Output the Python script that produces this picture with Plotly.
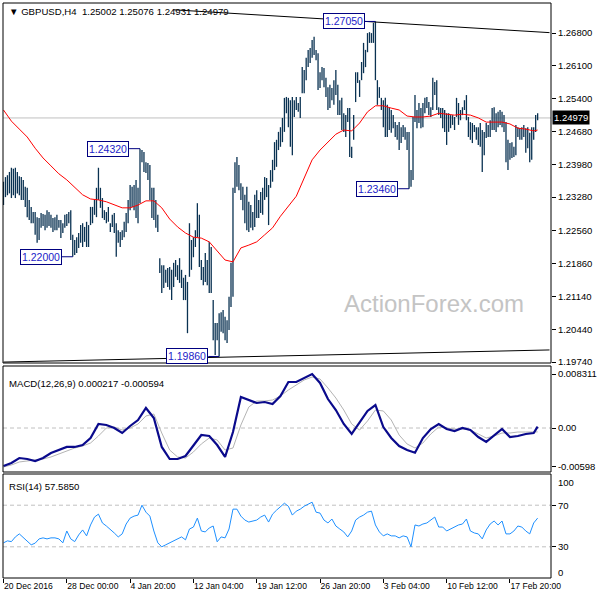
import plotly.graph_objects as go

# ---------------- data ----------------
SYMBOL = "GBPUSD,H4"
LAST_OHLC = [1.25002, 1.25076, 1.24931, 1.24979]

# bar highs / lows, in units of 0.0001 (one H4 bar each, 271 bars)
BAR_HIGH = [12361, 12371, 12375, 12382, 12391, 12389, 12391, 12382, 12373, 12371,
            12365, 12350, 12348, 12322, 12307, 12296, 12296, 12285, 12283, 12294,
            12292, 12290, 12300, 12296, 12290, 12283, 12285, 12290, 12279, 12279,
            12272, 12290, 12292, 12296, 12300, 12247, 12236, 12242, 12251, 12268,
            12272, 12264, 12275, 12268, 12307, 12307, 12322, 12348, 12391, 12348,
            12326, 12300, 12296, 12307, 12272, 12290, 12294, 12272, 12257, 12253,
            12257, 12275, 12294, 12322, 12354, 12350, 12354, 12365, 12348, 12432,
            12429, 12425, 12403, 12401, 12397, 12348, 12348, 12322, 12290, 12197,
            12182, 12182, 12172, 12176, 12178, 12172, 12187, 12193, 12182, 12197,
            12172, 12155, 12161, 12146, 12272, 12236, 12242, 12257, 12315, 12290,
            12193, 12178, 12208, 12193, 12232, 12221, 12107, 12058, 12058, 12079,
            12081, 12086, 12071, 12064, 12114, 12187, 12348, 12403, 12414, 12397,
            12358, 12350, 12333, 12350, 12318, 12311, 12296, 12333, 12343, 12322,
            12339, 12348, 12371, 12369, 12354, 12386, 12408, 12446, 12451, 12468,
            12478, 12498, 12541, 12543, 12541, 12536, 12543, 12536, 12543, 12530,
            12543, 12607, 12601, 12627, 12644, 12648, 12665, 12672, 12644, 12637,
            12596, 12607, 12605, 12584, 12564, 12569, 12562, 12579, 12601, 12569,
            12536, 12541, 12508, 12504, 12519, 12519, 12436, 12504, 12596, 12596,
            12579, 12618, 12659, 12644, 12680, 12682, 12680, 12702, 12705, 12579,
            12564, 12541, 12536, 12541, 12526, 12519, 12515, 12504, 12489, 12483,
            12489, 12478, 12483, 12478, 12468, 12468, 12386, 12500, 12547, 12515,
            12530, 12519, 12530, 12541, 12543, 12532, 12521, 12584, 12575, 12579,
            12521, 12519, 12519, 12515, 12508, 12508, 12504, 12504, 12500, 12541,
            12530, 12515, 12521, 12536, 12547, 12500, 12489, 12487, 12483, 12478,
            12478, 12487, 12472, 12468, 12487, 12483, 12493, 12519, 12521, 12508,
            12511, 12515, 12511, 12504, 12489, 12451, 12444, 12446, 12436, 12483,
            12478, 12476, 12478, 12483, 12476, 12478, 12466, 12478, 12478, 12504,
            12508]
BAR_LOW = [12311, 12328, 12332, 12336, 12326, 12332, 12326, 12336, 12332, 12322,
           12322, 12307, 12285, 12279, 12272, 12272, 12247, 12230, 12236, 12262,
           12266, 12257, 12262, 12266, 12262, 12253, 12257, 12257, 12262, 12240,
           12251, 12262, 12266, 12272, 12236, 12200, 12204, 12208, 12219, 12230,
           12221, 12232, 12221, 12221, 12268, 12272, 12290, 12285, 12322, 12305,
           12283, 12279, 12272, 12275, 12253, 12264, 12251, 12200, 12230, 12221,
           12236, 12242, 12253, 12272, 12300, 12307, 12300, 12283, 12272, 12315,
           12403, 12382, 12380, 12365, 12322, 12283, 12279, 12262, 12253, 12165,
           12122, 12133, 12144, 12135, 12129, 12107, 12135, 12157, 12150, 12144,
           12133, 12107, 12107, 12036, 12157, 12172, 12199, 12221, 12242, 12178,
           12150, 12139, 12146, 12139, 12122, 12122, 12021, 11989, 12021, 11986,
           12039, 12036, 12021, 12015, 12043, 12092, 12114, 12337, 12350, 12343,
           12322, 12300, 12272, 12257, 12253, 12262, 12257, 12264, 12283, 12283,
           12294, 12290, 12322, 12328, 12268, 12348, 12361, 12386, 12393, 12429,
           12436, 12446, 12468, 12508, 12478, 12436, 12418, 12500, 12515, 12511,
           12498, 12551, 12551, 12579, 12607, 12616, 12627, 12633, 12622, 12558,
           12562, 12579, 12564, 12543, 12515, 12519, 12536, 12526, 12547, 12504,
           12504, 12472, 12468, 12457, 12489, 12414, 12412, 12451, 12532, 12573,
           12543, 12579, 12594, 12607, 12639, 12659, 12659, 12659, 12579, 12526,
           12541, 12515, 12478, 12457, 12457, 12472, 12466, 12476, 12457, 12451,
           12429, 12444, 12457, 12451, 12429, 12346, 12350, 12365, 12489, 12476,
           12487, 12476, 12478, 12508, 12519, 12504, 12500, 12515, 12547, 12515,
           12504, 12498, 12476, 12468, 12440, 12468, 12476, 12483, 12472, 12500,
           12483, 12493, 12504, 12515, 12493, 12457, 12451, 12444, 12468, 12451,
           12440, 12436, 12382, 12418, 12455, 12457, 12457, 12472, 12472, 12468,
           12478, 12483, 12478, 12468, 12403, 12386, 12408, 12412, 12414, 12418,
           12457, 12451, 12451, 12457, 12423, 12433, 12403, 12408, 12451, 12468,
           12493]

# moving average (red), MACD and signal, sampled every 4 bars + last bar
IND_BARS = list(range(0, 269, 4)) + [270]
MA_VALUES = [12515, 12491, 12474, 12457, 12433, 12412, 12395, 12378, 12365, 12350,
             12333, 12324, 12322, 12318, 12311, 12305, 12305, 12311, 12320, 12320,
             12305, 12281, 12264, 12251, 12242, 12240, 12232, 12212, 12193, 12189,
             12219, 12225, 12232, 12247, 12262, 12287, 12309, 12330, 12369, 12408,
             12429, 12446, 12463, 12472, 12470, 12487, 12511, 12524, 12524, 12519,
             12515, 12502, 12500, 12500, 12502, 12508, 12506, 12504, 12506, 12504,
             12498, 12489, 12489, 12489, 12485, 12476, 12474, 12470, 12472]
MACD_MAIN = [-0.00585, -0.00539, -0.00462, -0.00477, -0.00508, -0.00462, -0.00385, -0.00339,
             -0.00292, -0.00292, -0.00262, -0.00154, 0.00062, 0.00046, 0.0, -0.00077,
             0.00031, 0.00123, 0.00308, 0.00154, -0.00292, -0.00477, -0.00477, -0.00431,
             -0.00262, -0.00108, -0.00123, -0.00262, -0.00446, -0.00062, 0.00477, 0.00431,
             0.00385, 0.00400, 0.00369, 0.00493, 0.00708, 0.00708, 0.00770, 0.00831,
             0.00693, 0.00446, 0.00277, 0.00062, -0.00092, 0.00077, 0.00262, 0.00354,
             0.00015, -0.00154, -0.00277, -0.00340, -0.00380, -0.00154, -0.00015, 0.00062,
             -0.00015, -0.00046, 0.0, -0.00031, -0.00139, -0.00215, -0.00108, -0.00015,
             -0.00139, -0.00123, -0.00092, -0.00077, 0.000217]
MACD_SIGNAL = [-0.00600, -0.00569, -0.00523, -0.00508, -0.00493, -0.00477, -0.00446, -0.00400,
               -0.00354, -0.00308, -0.00277, -0.00231, -0.00123, 0.0, 0.00015, -0.00031,
               0.0, 0.00062, 0.00185, 0.00215, -0.00077, -0.00339, -0.00446, -0.00462,
               -0.00369, -0.00246, -0.00154, -0.00185, -0.00339, -0.00308, 0.00046, 0.00323,
               0.00416, 0.00416, 0.00431, 0.00493, 0.00585, 0.00662, 0.00739, 0.00785,
               0.00754, 0.00616, 0.00462, 0.00277, 0.00062, -0.00031, 0.00108, 0.00277,
               0.00262, 0.00123, -0.00108, -0.00246, -0.00308, -0.00231, -0.00092, 0.00015,
               0.0, -0.00015, -0.00015, -0.00031, -0.00092, -0.00154, -0.00123, -0.00077,
               -0.00077, -0.00062, -0.00062, -0.00062, -0.000594]

# RSI(14), sampled every 2 bars
RSI_BARS = list(range(0, 271, 2))
RSI_VALUES = [33.8, 35.7, 35.0, 39.5, 42.4, 38.6, 34.8, 31.9, 33.5, 37.6,
              38.6, 37.6, 38.6, 38.6, 37.6, 33.8, 45.2, 37.6, 35.0, 41.4,
              46.2, 40.5, 51.0, 58.6, 61.4, 52.9, 50.0, 47.1, 43.3, 39.5,
              42.4, 51.9, 57.6, 59.5, 60.5, 70.0, 63.3, 59.5, 45.2, 33.8,
              30.0, 31.9, 33.8, 35.7, 37.6, 39.5, 36.7, 47.1, 49.0, 57.6,
              45.2, 44.3, 48.1, 50.0, 34.8, 39.5, 38.6, 47.1, 66.2, 66.2,
              59.5, 55.7, 53.8, 54.8, 55.7, 58.6, 60.5, 53.8, 61.4, 65.2,
              68.1, 71.9, 69.0, 60.5, 64.3, 66.2, 69.0, 71.0, 72.9, 63.3,
              62.4, 55.7, 52.9, 56.7, 50.0, 47.1, 44.3, 39.5, 45.2, 55.7,
              58.6, 60.5, 63.3, 64.3, 51.0, 44.3, 40.5, 42.4, 40.5, 40.5,
              38.6, 40.5, 39.5, 30.0, 51.0, 50.0, 51.9, 52.9, 55.7, 58.6,
              49.0, 49.0, 45.2, 47.1, 49.0, 51.0, 51.9, 56.7, 45.2, 43.3,
              42.4, 37.6, 46.2, 51.9, 54.8, 51.0, 54.8, 42.4, 42.4, 45.2,
              50.0, 49.0, 45.2, 42.4, 52.9, 57.585]

X_TICK_BARS = [0, 32, 64, 96, 128, 160, 192, 224, 256]
X_TICK_LABELS = ["20 Dec 2016", "28 Dec 00:00", "4 Jan 20:00", "12 Jan 04:00",
                 "19 Jan 12:00", "26 Jan 20:00", "3 Feb 04:00", "10 Feb 12:00",
                 "17 Feb 20:00"]
PRICE_TICKS = [1.26800, 1.26100, 1.25400, 1.24680, 1.23980, 1.23280,
               1.22560, 1.21860, 1.21140, 1.20440, 1.19740]

SWING_BARS = [69, 35, 109, 188, 205]
SWING_PRICES = [1.24320, 1.22000, 1.19860, 1.27050, 1.23460]

TREND_TOP_BARS = [86, 276]
TREND_TOP_PRICES = [1.2730, 1.2681]
TREND_BOT_BARS = [0, 276]
TREND_BOT_PRICES = [1.1974, 1.2000]

MACD_TICKS = [0.008311, 0.0, -0.00598]
MACD_TICK_TEXT = ["0.008311", "0.00", "-0.00598"]
RSI_LEVELS = [70, 30]

# ---------------- figure ----------------
FONT = "Liberation Sans, Arial, sans-serif"
BAR_COLOR = "#0a3252"
W, H = 600, 600
ML, MR, MT, MB = 3, 43, 3, 22
PH = H - MT - MB


def dom(top_px, bot_px):
    return [1 - (bot_px - MT) / PH, 1 - (top_px - MT) / PH]


def py(px):
    return 1 - (px - MT) / PH


main_dom = dom(3, 363)
macd_dom = dom(366, 472)
rsi_dom = dom(474, 578)

fig = go.Figure()

# OHLC bars (high-low sticks)
bx, by = [], []
for i, (h, l) in enumerate(zip(BAR_HIGH, BAR_LOW)):
    bx += [i, i, None]
    by += [l / 1e4, h / 1e4, None]
fig.add_trace(go.Scatter(x=bx, y=by, mode="lines", line=dict(color=BAR_COLOR, width=1.3),
                         xaxis="x", yaxis="y", hoverinfo="skip", showlegend=False))

# moving average
fig.add_trace(go.Scatter(x=IND_BARS, y=[v / 1e4 for v in MA_VALUES], mode="lines",
                         line=dict(color="#ff0000", width=1), xaxis="x", yaxis="y",
                         showlegend=False))

# trend lines
fig.add_trace(go.Scatter(x=TREND_TOP_BARS, y=TREND_TOP_PRICES, mode="lines",
                         line=dict(color="black", width=1), xaxis="x", yaxis="y",
                         showlegend=False))
fig.add_trace(go.Scatter(x=TREND_BOT_BARS, y=TREND_BOT_PRICES, mode="lines",
                         line=dict(color="black", width=1), xaxis="x", yaxis="y",
                         showlegend=False))

# MACD
fig.add_trace(go.Scatter(x=IND_BARS, y=MACD_SIGNAL, mode="lines",
                         line=dict(color="#b4b4b4", width=1), xaxis="x", yaxis="y2",
                         showlegend=False))
fig.add_trace(go.Scatter(x=IND_BARS, y=MACD_MAIN, mode="lines",
                         line=dict(color="#0a0a8c", width=2.2), xaxis="x", yaxis="y2",
                         showlegend=False))

# RSI
fig.add_trace(go.Scatter(x=RSI_BARS, y=RSI_VALUES, mode="lines",
                         line=dict(color="#1e90ff", width=1), xaxis="x", yaxis="y3",
                         showlegend=False))

XR = [-0.25, 276.75]
shapes = []
# bid line
shapes.append(dict(type="line", xref="paper", yref="y", x0=0, x1=1,
                   y0=LAST_OHLC[3], y1=LAST_OHLC[3], line=dict(color="#c0c0c0", width=1),
                   layer="below"))
# zero line (MACD) and RSI levels
shapes.append(dict(type="line", xref="paper", yref="y2", x0=0, x1=1, y0=0, y1=0,
                   line=dict(color="#c0c0c0", width=1, dash="4px,3px"), layer="below"))
for lv in RSI_LEVELS:
    shapes.append(dict(type="line", xref="paper", yref="y3", x0=0, x1=1, y0=lv, y1=lv,
                       line=dict(color="#c0c0c0", width=1, dash="4px,3px"), layer="below"))
# panel frames
for d in (main_dom, macd_dom, rsi_dom):
    shapes.append(dict(type="rect", xref="paper", yref="paper", x0=0, x1=1,
                       y0=d[0], y1=d[1], line=dict(color="black", width=1)))
# swing label connectors
for b, p in zip(SWING_BARS, SWING_PRICES):
    shapes.append(dict(type="line", xref="x", yref="y", x0=b - 5.5, x1=b, y0=p, y1=p,
                       line=dict(color="#000080", width=1)))

ann = []
ann.append(dict(xref="paper", yref="paper", x=(7 - ML) / 554, y=py(4), xanchor="left",
                yanchor="top", showarrow=False,
                text="▼ " + SYMBOL + "  " + " ".join(f"{v:.5f}" for v in LAST_OHLC),
                font=dict(family=FONT, size=9.6, color="black")))
for b, p in zip(SWING_BARS, SWING_PRICES):
    ann.append(dict(xref="x", yref="y", x=b - 5.5, y=p, xanchor="right", yanchor="middle",
                    showarrow=False, text=f"{p:.5f}", bgcolor="white",
                    bordercolor="#000080", borderwidth=1, borderpad=1,
                    font=dict(family=FONT, size=10.5, color="#1c1cc8")))
ann.append(dict(xref="paper", yref="paper", x=(439 - ML) / 554, y=py(303),
                xanchor="center", yanchor="middle", showarrow=False, text="ActionForex.com",
                font=dict(family=FONT, size=24, color="#c4c4c4")))
ann.append(dict(xref="paper", yref="y", x=1, y=LAST_OHLC[3], xanchor="left",
                yanchor="middle", showarrow=False, text=f"{LAST_OHLC[3]:.5f}",
                bgcolor="black", borderpad=1, xshift=1,
                font=dict(family=FONT, size=9.5, color="white")))
ann.append(dict(xref="paper", yref="paper", x=(7 - ML) / 554, y=py(376), xanchor="left",
                yanchor="top", showarrow=False,
                text=f"MACD(12,26,9) {MACD_MAIN[-1]:.6f} {MACD_SIGNAL[-1]:.6f}",
                font=dict(family=FONT, size=9.6, color="black")))
ann.append(dict(xref="paper", yref="paper", x=(7 - ML) / 554, y=py(479), xanchor="left",
                yanchor="top", showarrow=False, text=f"RSI(14) {RSI_VALUES[-1]:.4f}",
                font=dict(family=FONT, size=9.6, color="black")))
for txt, ypx in (("100", 482), ("0", 572)):
    ann.append(dict(xref="paper", yref="paper", x=1, y=py(ypx), xanchor="left",
                    yanchor="middle", showarrow=False, text=txt, xshift=5,
                    font=dict(family=FONT, size=9.5, color="black")))

yax_common = dict(side="right", showgrid=False, zeroline=False, ticks="outside",
                  ticklen=4, tickcolor="black", tickwidth=1, showline=False,
                  tickfont=dict(family=FONT, size=9.5, color="black"), fixedrange=True)

fig.update_layout(
    width=W, height=H, margin=dict(l=ML, r=MR, t=MT, b=MB),
    paper_bgcolor="white", plot_bgcolor="white", showlegend=False,
    xaxis=dict(range=XR, domain=[0, 1], anchor="y3", showgrid=False, zeroline=False,
               tickvals=X_TICK_BARS, ticktext=X_TICK_LABELS, ticks="outside",
               ticklen=4, tickcolor="black", ticklabelposition="outside right",
               tickfont=dict(family=FONT, size=8.6, color="black"), showline=False),
    yaxis=dict(domain=main_dom, range=[1.19720, 1.27446], anchor="x",
               tickvals=PRICE_TICKS, ticktext=[f"{v:.5f}" for v in PRICE_TICKS],
               **yax_common),
    yaxis2=dict(domain=macd_dom, range=[-0.006772, 0.009543], anchor="x",
                tickvals=MACD_TICKS, ticktext=MACD_TICK_TEXT, **yax_common),
    yaxis3=dict(domain=rsi_dom, range=[0, 100], anchor="x",
                tickvals=RSI_LEVELS, ticktext=[str(v) for v in RSI_LEVELS], **yax_common),
    shapes=shapes, annotations=ann,
)

fig.write_html("out.html", config={"displayModeBar": False},
               post_script="document.body.style.margin='0px';"
                           "document.body.style.overflow='hidden';")
